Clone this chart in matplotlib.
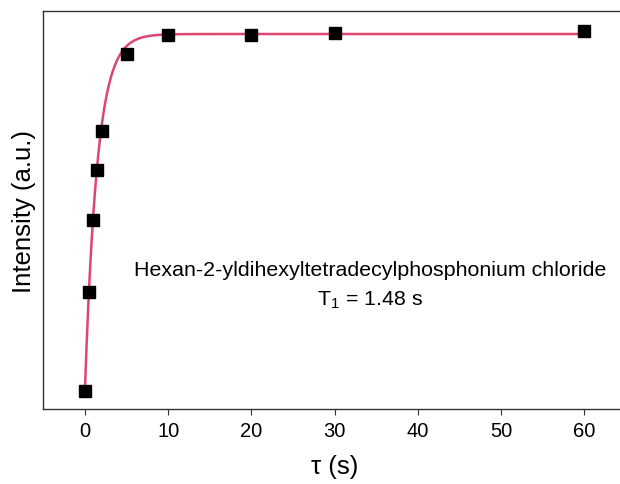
import numpy as np
import matplotlib
matplotlib.use('Agg')
import matplotlib.pyplot as plt

plt.rcParams['font.family'] = ['Liberation Sans', 'DejaVu Sans']
plt.rcParams['mathtext.fontset'] = 'custom'
plt.rcParams['mathtext.rm'] = 'Liberation Sans'

# delay times (s) and measured intensities (a.u.)
tau = [0, 0.5, 1, 1.5, 2, 5, 10, 20, 30, 60]
intensity = [0.049, 0.311, 0.504, 0.637, 0.741, 0.947, 0.997, 0.997, 1.003, 1.007]

# fit: I = A - B*exp(-t/T1)
T1 = 1.48
A = 1.0
B = 0.952

fig = plt.figure(figsize=(6.2, 4.85), dpi=100)
ax = fig.add_axes([0.0698, 0.1546, 0.94, 0.82])

t_fit = np.linspace(0, 60, 600)
ax.plot(t_fit, A - B * np.exp(-t_fit / T1), color='#dc4670', lw=1.8, zorder=2)
ax.plot(tau, intensity, 's', color='black', ms=8, zorder=3)

ax.set_xlim(-5, 65)
ax.set_ylim(0, 1.0605)
ax.set_xticks([0, 10, 20, 30, 40, 50, 60])
ax.set_yticks([])
ax.tick_params(axis='x', labelsize=14.5, length=4.5, pad=4, direction='out', color='#333333')
for s in ax.spines.values():
    s.set_color('#333333')
    s.set_linewidth(1.0)

ax.set_xlabel('τ (s)', fontsize=18.5, labelpad=10)
ax.set_ylabel('Intensity (a.u.)', fontsize=18.5, labelpad=5)

ax.text(0.561, 0.35, 'Hexan-2-yldihexyltetradecylphosphonium chloride',
        transform=ax.transAxes, ha='center', va='center', fontsize=15.4)
ax.text(0.561, 0.275, r'T$_\mathregular{1}$ = 1.48 s',
        transform=ax.transAxes, ha='center', va='center', fontsize=15.4)

plt.savefig('out.png', dpi=100)
